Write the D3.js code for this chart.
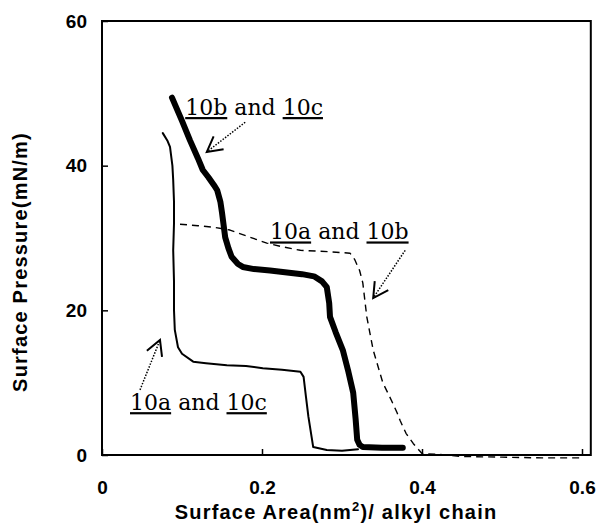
<!DOCTYPE html>
<html>
<head>
<meta charset="utf-8">
<script src="https://cdn.jsdelivr.net/npm/d3@7"></script>
<style>
  body { margin: 0; background: #fff; }
  svg { display: block; }
  .tick text { font-family: "Liberation Sans", Arial, sans-serif; font-size: 19px; font-weight: bold; fill: #000; }
  .title { font-family: "Liberation Sans", Arial, sans-serif; font-size: 20px; font-weight: bold; letter-spacing: 1.2px; fill: #000; }
  .note { font-family: "DejaVu Serif", serif; font-size: 22px; fill: #000; }
</style>
</head>
<body>
<svg width="598" height="524"></svg>
<script>
// isotherm 10b and 10c (thick line)
var areaBC = [0.0875, 0.100, 0.110, 0.120, 0.126, 0.133, 0.140, 0.144, 0.148, 0.150, 0.154, 0.158, 0.162, 0.170, 0.176,
              0.190, 0.210, 0.226, 0.250, 0.265, 0.275, 0.281, 0.284, 0.285, 0.292, 0.301, 0.308, 0.314, 0.317, 0.319,
              0.322, 0.326, 0.350, 0.376];
var pressBC = [49.4, 46.2, 43.5, 41.0, 39.4, 38.4, 37.3, 36.6, 35.0, 33.5, 30.1, 28.6, 27.4, 26.4, 26.0,
               25.7, 25.5, 25.3, 25.0, 24.7, 24.0, 23.2, 21.0, 19.1, 17.0, 14.5, 11.5, 8.6, 5.0, 2.1,
               1.4, 1.1, 1.0, 1.0];

// isotherm 10a and 10c (thin line)
var areaAC = [0.076, 0.082, 0.085, 0.088, 0.089, 0.090, 0.090, 0.089, 0.090, 0.090, 0.091, 0.095, 0.100, 0.114, 0.130,
              0.156, 0.180, 0.201, 0.225, 0.248, 0.252, 0.255, 0.258, 0.262, 0.264, 0.281, 0.300, 0.320];
var pressAC = [44.5, 43.4, 42.6, 40.0, 38.0, 35.0, 32.0, 28.3, 24.0, 20.0, 17.3, 14.9, 14.0, 12.9, 12.7,
               12.4, 12.3, 12.0, 11.8, 11.5, 10.8, 8.0, 5.3, 2.5, 1.1, 0.7, 0.6, 0.8];

// isotherm 10a and 10b (dashed line)
var areaAB = [0.0975, 0.120, 0.139, 0.160, 0.185, 0.206, 0.225, 0.248, 0.285, 0.310, 0.316, 0.322, 0.326, 0.331, 0.339,
              0.351, 0.362, 0.369, 0.3725, 0.380, 0.389, 0.400, 0.420, 0.450, 0.500, 0.550, 0.600];
var pressAB = [31.9, 31.7, 31.5, 31.1, 30.1, 29.3, 28.8, 28.3, 28.1, 27.9, 27.0, 25.5, 23.8, 19.1, 14.5,
               10.0, 7.5, 5.8, 4.8, 3.0, 1.6, 0.2, 0.1, -0.2, -0.3, -0.4, -0.4];

// axis ticks
var xTicks = [0, 0.2, 0.4, 0.6];
var xTickLabels = ["0", "0.2", "0.4", "0.6"];
var yTicks = [0, 20, 40, 60];
var yTickLabels = ["0", "20", "40", "60"];
var xMax = 0.611;

// annotations: label text, label position, arrow start and arrow tip (data units)
var noteTexts = ["10b and 10c", "10a and 10b", "10a and 10c"];
var noteAreas = [0.104, 0.210, 0.035];
var notePress = [47.0, 29.8, 6.2];
var arrowFrom = [[0.179, 46.0], [0.379, 28.3], [0.0475, 9.0]];
var arrowTo = [[0.131, 41.9], [0.339, 21.7], [0.0725, 15.9]];

var svg = d3.select('svg');

var xScale = d3.scaleLinear().domain([0, 0.6]).range([102, 582]);
var yScale = d3.scaleLinear().domain([0, 60]).range([455, 21]);

// frame
svg.append('rect')
    .attr('x', xScale(0))
    .attr('y', yScale(60))
    .attr('width', xScale(xMax) - xScale(0))
    .attr('height', yScale(0) - yScale(60))
    .attr('fill', 'none')
    .attr('stroke', '#000')
    .attr('stroke-width', 2);

var xAxis = d3.axisBottom(xScale)
    .tickValues(xTicks)
    .tickSize(-6)
    .tickPadding(26)
    .tickFormat(function(d, i){ return xTickLabels[i]; });

var yAxis = d3.axisLeft(yScale)
    .tickValues(yTicks)
    .tickSize(-6)
    .tickPadding(15)
    .tickFormat(function(d, i){ return yTickLabels[i]; });

var gx = svg.append('g')
    .attr('transform', 'translate(0,' + yScale(0) + ')')
    .call(xAxis);
gx.select('.domain').remove();
gx.selectAll('.tick line').attr('stroke-width', 1.5);

var gy = svg.append('g')
    .attr('transform', 'translate(' + xScale(0) + ',0)')
    .call(yAxis);
gy.select('.domain').remove();
gy.selectAll('.tick line').attr('stroke-width', 1.5);

// axis titles
var xTitle = svg.append('text')
    .attr('class', 'title')
    .attr('x', 336)
    .attr('y', 519)
    .attr('text-anchor', 'middle');
xTitle.append('tspan').text('Surface Area(nm');
xTitle.append('tspan').attr('dy', -8).style('font-size', '13px').text('2');
xTitle.append('tspan').attr('dy', 8).text(')/ alkyl chain');

svg.append('text')
    .attr('class', 'title')
    .attr('transform', 'translate(27,262) rotate(-90)')
    .attr('text-anchor', 'middle')
    .text('Surface Pressure(mN/m)');

// curves
function drawCurve(areas, press, width, dash) {
    var pts = areas.map(function(a, i){ return [xScale(a), yScale(press[i])]; });
    var path = svg.append('path')
        .attr('d', d3.line()(pts))
        .attr('fill', 'none')
        .attr('stroke', '#000')
        .attr('stroke-width', width)
        .attr('stroke-linejoin', 'round')
        .attr('stroke-linecap', 'round');
    if (dash) path.attr('stroke-dasharray', dash).attr('stroke-linecap', 'butt');
}

drawCurve(areaAC, pressAC, 2, null);
drawCurve(areaAB, pressAB, 1.4, '7,5');
drawCurve(areaBC, pressBC, 6, null);

// annotations
noteTexts.forEach(function(t, i){
    var txt = svg.append('text')
        .attr('class', 'note')
        .attr('x', xScale(noteAreas[i]))
        .attr('y', yScale(notePress[i]));
    t.split(' ').forEach(function(word, j){
        if (j > 0) txt.append('tspan').text(' ');
        var sp = txt.append('tspan').text(word);
        if (/^10/.test(word)) sp.style('text-decoration', 'underline');
    });

    var x0 = xScale(arrowFrom[i][0]), y0 = yScale(arrowFrom[i][1]);
    var x1 = xScale(arrowTo[i][0]), y1 = yScale(arrowTo[i][1]);
    svg.append('line')
        .attr('x1', x0).attr('y1', y0)
        .attr('x2', x1).attr('y2', y1)
        .attr('stroke', '#000')
        .attr('stroke-width', 1.5)
        .attr('stroke-dasharray', '1.5,1.5');

    // open arrow head
    var ang = Math.atan2(y0 - y1, x0 - x1);
    var len = 17, spread = 0.5;
    var head = [
        [x1 + len * Math.cos(ang - spread), y1 + len * Math.sin(ang - spread)],
        [x1, y1],
        [x1 + len * Math.cos(ang + spread), y1 + len * Math.sin(ang + spread)]
    ];
    svg.append('path')
        .attr('d', d3.line()(head))
        .attr('fill', 'none')
        .attr('stroke', '#000')
        .attr('stroke-width', 2);
});
</script>
</body>
</html>
